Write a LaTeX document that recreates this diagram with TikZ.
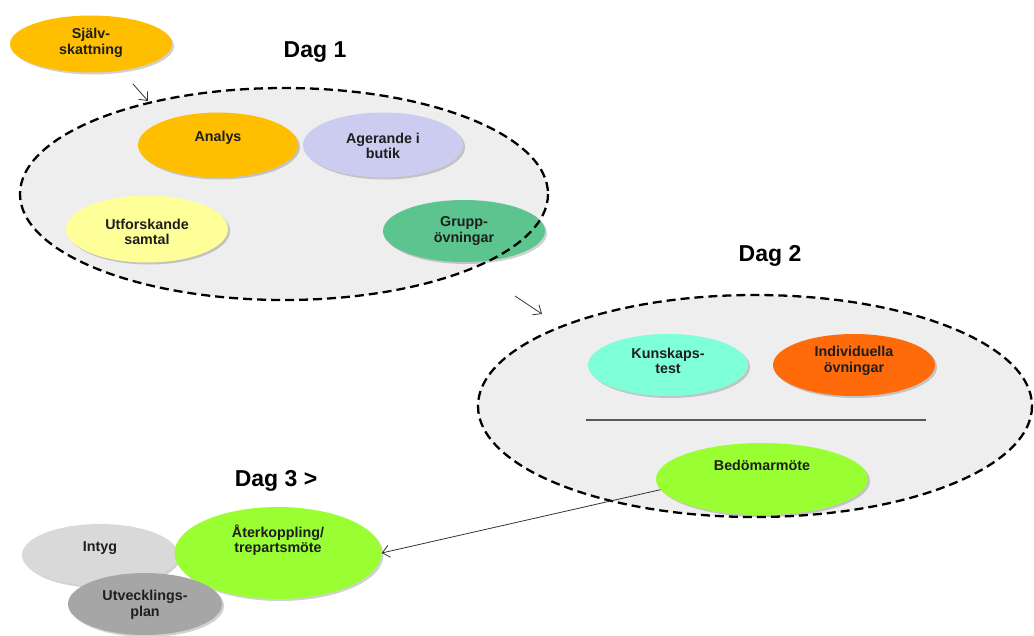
\documentclass[tikz,border=0pt]{standalone}
\usepackage{fontspec}
\setmainfont{Liberation Sans}
\usetikzlibrary{shapes.geometric,arrows.meta,shadows}
\definecolor{cOrange}{HTML}{FFBF00}
\definecolor{cLavender}{HTML}{CCCCF0}
\definecolor{cLightYellow}{HTML}{FFFF99}
\definecolor{cTeal}{HTML}{5CC48E}
\definecolor{cAqua}{HTML}{7FFFD8}
\definecolor{cRedOrange}{HTML}{FF6A0A}
\definecolor{cLime}{HTML}{99FF33}
\definecolor{cGrayLight}{HTML}{D9D9D9}
\definecolor{cGrayDark}{HTML}{A6A6A6}
\definecolor{cBig}{HTML}{EEEEEE}
\definecolor{cText}{HTML}{1E1E1E}
\tikzset{
  ptext/.style={align=center, text=cText, inner sep=0pt,
    font=\fontsize{14.3}{15.5}\selectfont\bfseries},
  pill/.style={ellipse, inner sep=0pt,
    drop shadow={shadow xshift=2pt, shadow yshift=-2pt, fill=black, opacity=0.18}},
  big/.style={ellipse, inner sep=0pt, fill=cBig},
  bigline/.style={draw=black, line width=2.3pt, dash pattern=on 9pt off 5pt},
  daglabel/.style={font=\fontsize{23}{27}\selectfont\bfseries, text=black},
  conn/.style={draw=black!80, line width=0.8pt, -{Straight Barb[length=7pt,width=12pt]}},
}
\begin{document}
\begin{tikzpicture}[x=1pt,y=-1pt]
\useasboundingbox (0,0) rectangle (1034,635);
% Dag 1
\node[pill, fill=cOrange, minimum width=162pt, minimum height=57pt, label={[ptext, yshift=1pt]center:Själv-\\skattning}] (sjalv) at (91,44) {};
\node[daglabel] (d1lab) at (315,52) {Dag 1};
\node[big, minimum width=528pt, minimum height=212pt] (d1) at (284,194) {};
\coordinate (a1s) at (133,84);
\coordinate (a1e) at (148,101);
\draw[conn] (a1s) -- (a1e);
\node[pill, fill=cOrange, minimum width=160pt, minimum height=65pt, label={[ptext, yshift=7pt]center:Analys}] (analys) at (218,145) {};
\node[pill, fill=cLavender, minimum width=160pt, minimum height=65pt, label={[ptext, yshift=-1pt]center:Agerande i\\butik}] (agerande) at (383,145) {};
\node[pill, fill=cLightYellow, minimum width=162pt, minimum height=67pt, label={[ptext, yshift=-3pt]center:Utforskande\\samtal}] (utf) at (147,229) {};
\node[pill, fill=cTeal, minimum width=162pt, minimum height=62pt, label={[ptext, yshift=0pt]center:Grupp-\\övningar}] (grupp) at (464,231) {};
\draw[bigline] (d1.center) ellipse [x radius=264, y radius=106];
% Dag 2
\node[daglabel] (d2lab) at (770,256) {Dag 2};
\coordinate (a2s) at (515,296);
\coordinate (a2e) at (542,314);
\draw[conn] (a2s) -- (a2e);
\node[big, minimum width=554pt, minimum height=222pt] (d2) at (755,406) {};
\node[pill, fill=cAqua, minimum width=160pt, minimum height=62pt, label={[ptext, yshift=4pt]center:Kunskaps-\\test}] (kunskap) at (668,365) {};
\node[pill, fill=cRedOrange, minimum width=162pt, minimum height=62pt, label={[ptext, yshift=4pt]center:Individuella\\övningar}] (indiv) at (854,365) {};
\coordinate (sepL) at (586,420);
\coordinate (sepR) at (926,420);
\draw[line width=1.2pt, draw=black!65] (sepL) -- (sepR);
\node[pill, fill=cLime, minimum width=212pt, minimum height=72pt, label={[ptext, yshift=14pt]center:Bedömarmöte}] (bed) at (762,479) {};
\draw[bigline] (d2.center) ellipse [x radius=277, y radius=111];
% Dag 3
\node[daglabel] (d3lab) at (276,481) {Dag 3 >};
\node[pill, fill=cGrayLight, minimum width=156pt, minimum height=62pt, label={[ptext, yshift=7pt]center:Intyg}] (intyg) at (100,555) {};
\node[pill, fill=cLime, minimum width=207pt, minimum height=92pt, label={[ptext, yshift=13pt]center:Återkoppling/\\trepartsmöte}] (ater) at (278,553) {};
\node[pill, fill=cGrayDark, minimum width=154pt, minimum height=62pt, label={[ptext, yshift=-1pt]center:Utvecklings-\\plan}] (utv) at (145,604) {};
\draw[conn] (bed.186) -- (ater.east);
\end{tikzpicture}
\end{document}
